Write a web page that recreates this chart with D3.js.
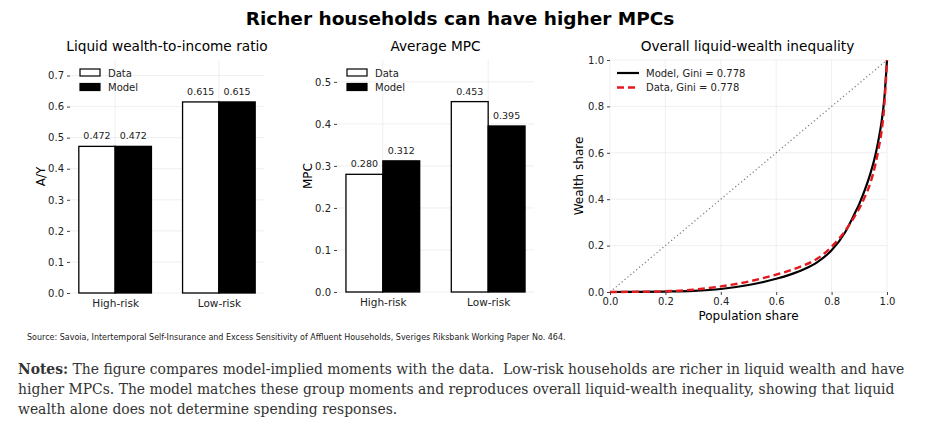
<!doctype html>
<html lang="en">
<head>
  <meta charset="utf-8">
  <title>Richer households can have higher MPCs</title>
  <style>
    * { margin: 0; padding: 0; box-sizing: border-box; }
    body { background: #fff; }
    svg { display: block; font-family: 'DejaVu Sans', sans-serif; }
    .notes { font-family: 'DejaVu Serif', serif; font-stretch: condensed; white-space: pre; }
  </style>
</head>
<body>
  <div id="container"></div>
  <script src="https://cdn.jsdelivr.net/npm/d3@7"></script>
  <script>
    // values
    const groups = ['High-risk', 'Low-risk'];
    const seriesNames = ['Data', 'Model'];

    const wealthIncomeData = [0.472, 0.615];
    const wealthIncomeModel = [0.472, 0.615];
    const wealthIncomeTicks = [0, 0.1, 0.2, 0.3, 0.4, 0.5, 0.6, 0.7];

    const mpcData = [0.280, 0.453];
    const mpcModel = [0.312, 0.395];
    const mpcTicks = [0, 0.1, 0.2, 0.3, 0.4, 0.5];

    const lorenzPop   = [0, 0.1,    0.2,   0.3,   0.4,   0.5,   0.6,   0.65,  0.7,   0.75,  0.8,   0.85,  0.88,  0.9,  0.92, 0.94, 0.96, 0.97, 0.98, 0.99, 1.0];
    const lorenzModel = [0, 0.0005, 0.002, 0.005, 0.013, 0.03,  0.057, 0.075, 0.098, 0.13,  0.18,  0.26,  0.33,  0.38, 0.44, 0.51, 0.60, 0.66, 0.73, 0.83, 1.0];
    const lorenzData  = [0, 0.0008, 0.003, 0.01,  0.024, 0.045, 0.075, 0.093, 0.115, 0.145, 0.195, 0.265, 0.32,  0.36, 0.41, 0.47, 0.56, 0.62, 0.69, 0.80, 1.0];
    const lorenzTicks = [0, 0.2, 0.4, 0.6, 0.8, 1.0];
    const giniModel = 0.778;
    const giniData = 0.778;

    const W = 927, H = 435;
    const gridColor = '#ebebeb';
    const red = '#e3191d';

    const svg = d3.select('#container').append('svg')
      .attr('width', W)
      .attr('height', H);
    svg.append('rect').attr('width', W).attr('height', H).attr('fill', '#fff');

    svg.append('text')
      .attr('x', 460).attr('y', 25)
      .attr('text-anchor', 'middle')
      .attr('font-size', 18.5)
      .attr('font-weight', 'bold')
      .text('Richer households can have higher MPCs');

    function styleAxis(g) {
      g.select('.domain').remove();
      g.selectAll('.tick line').attr('stroke', '#444');
      g.selectAll('.tick text').attr('fill', '#222');
    }

    function barPanel(opt) {
      const g = svg.append('g');
      const x = d3.scaleLinear().domain([-0.435, 1.435]).range([opt.left, opt.right]);
      const y = d3.scaleLinear().domain([0, opt.yMax]).range([opt.bottom, opt.top]);
      const bw = 0.35;

      // grid
      g.selectAll('line.hgrid').data(opt.ticks).enter().append('line')
        .attr('x1', opt.left).attr('x2', opt.right)
        .attr('y1', d => y(d)).attr('y2', d => y(d))
        .attr('stroke', gridColor).attr('stroke-width', 0.8);
      g.selectAll('line.vgrid').data(groups).enter().append('line')
        .attr('x1', (d, i) => x(i)).attr('x2', (d, i) => x(i))
        .attr('y1', opt.top).attr('y2', opt.bottom)
        .attr('stroke', gridColor).attr('stroke-width', 0.8);

      const series = [
        { name: seriesNames[0], vals: opt.dataVals, fill: '#fff', off: -bw },
        { name: seriesNames[1], vals: opt.modelVals, fill: '#000', off: 0 }
      ];

      series.forEach(s => {
        g.selectAll(null).data(s.vals).enter().append('rect')
          .attr('x', (d, i) => x(i + s.off))
          .attr('width', x(bw) - x(0))
          .attr('y', d => y(d))
          .attr('height', d => y(0) - y(d))
          .attr('fill', s.fill)
          .attr('stroke', '#000')
          .attr('stroke-width', 1.3);
        g.selectAll(null).data(s.vals).enter().append('text')
          .attr('x', (d, i) => x(i + s.off + bw / 2))
          .attr('y', d => y(d) - 7)
          .attr('text-anchor', 'middle')
          .attr('font-size', 9.5)
          .attr('fill', '#222')
          .text(d => d3.format('.3f')(d));
      });

      const ay = g.append('g')
        .attr('transform', `translate(${opt.left},0)`)
        .call(d3.axisLeft(y).tickValues(opt.ticks).tickFormat(d3.format('.1f')).tickSize(3).tickPadding(3))
        .attr('font-size', 10).attr('font-family', null);
      styleAxis(ay);

      const ax = g.append('g')
        .attr('transform', `translate(0,${opt.bottom})`)
        .call(d3.axisBottom(x).tickValues([0, 1]).tickFormat(i => groups[i]).tickSize(0).tickPadding(7))
        .attr('font-size', 10.5).attr('font-family', null);
      styleAxis(ax);

      g.append('text')
        .attr('transform', `translate(${opt.ylabelX},${(opt.top + opt.bottom) / 2}) rotate(-90)`)
        .attr('text-anchor', 'middle')
        .attr('font-size', 12)
        .text(opt.ylabel);

      g.append('text')
        .attr('x', (opt.left + opt.right) / 2).attr('y', 51)
        .attr('text-anchor', 'middle')
        .attr('font-size', 13.7)
        .text(opt.title);

      // legend
      const lg = g.append('g').attr('transform', `translate(${opt.left + 10},${opt.top + 9})`);
      series.forEach((s, i) => {
        lg.append('rect')
          .attr('x', 0).attr('y', i * 14.5)
          .attr('width', 20).attr('height', 7)
          .attr('fill', s.fill).attr('stroke', '#000').attr('stroke-width', 1.2);
        lg.append('text')
          .attr('x', 28).attr('y', i * 14.5 + 7.5)
          .attr('font-size', 10)
          .attr('fill', '#222')
          .text(s.name);
      });
    }

    barPanel({
      left: 70, right: 264, top: 60, bottom: 293, yMax: 0.75,
      ticks: wealthIncomeTicks, dataVals: wealthIncomeData, modelVals: wealthIncomeModel,
      title: 'Liquid wealth-to-income ratio', ylabel: 'A/Y', ylabelX: 45
    });

    barPanel({
      left: 337, right: 534, top: 60, bottom: 292, yMax: 0.552,
      ticks: mpcTicks, dataVals: mpcData, modelVals: mpcModel,
      title: 'Average MPC', ylabel: 'MPC', ylabelX: 312
    });

    // Lorenz panel
    (function () {
      const left = 610, right = 887, top = 60, bottom = 292;
      const g = svg.append('g');
      const x = d3.scaleLinear().domain([0, 1]).range([left, right]);
      const y = d3.scaleLinear().domain([0, 1]).range([bottom, top]);

      g.selectAll(null).data(lorenzTicks).enter().append('line')
        .attr('x1', left).attr('x2', right)
        .attr('y1', d => y(d)).attr('y2', d => y(d))
        .attr('stroke', gridColor).attr('stroke-width', 0.8);
      g.selectAll(null).data(lorenzTicks).enter().append('line')
        .attr('x1', d => x(d)).attr('x2', d => x(d))
        .attr('y1', top).attr('y2', bottom)
        .attr('stroke', gridColor).attr('stroke-width', 0.8);

      g.append('line')
        .attr('x1', x(0)).attr('y1', y(0)).attr('x2', x(1)).attr('y2', y(1))
        .attr('stroke', '#777').attr('stroke-width', 1.2)
        .attr('stroke-dasharray', '1.2,2.6');

      const line = d3.line().curve(d3.curveMonotoneX)
        .x(d => x(d[0])).y(d => y(d[1]));

      g.append('path')
        .datum(d3.zip(lorenzPop, lorenzModel))
        .attr('d', line)
        .attr('fill', 'none').attr('stroke', '#000').attr('stroke-width', 2.2);
      g.append('path')
        .datum(d3.zip(lorenzPop, lorenzData))
        .attr('d', line)
        .attr('fill', 'none').attr('stroke', red).attr('stroke-width', 2.4)
        .attr('stroke-dasharray', '7,4');

      const ay = g.append('g')
        .attr('transform', `translate(${left},0)`)
        .call(d3.axisLeft(y).tickValues(lorenzTicks).tickFormat(d3.format('.1f')).tickSize(3).tickPadding(3))
        .attr('font-size', 10).attr('font-family', null);
      styleAxis(ay);
      const ax = g.append('g')
        .attr('transform', `translate(0,${bottom})`)
        .call(d3.axisBottom(x).tickValues(lorenzTicks).tickFormat(d3.format('.1f')).tickSize(3).tickPadding(3))
        .attr('font-size', 10).attr('font-family', null);
      styleAxis(ax);

      g.append('text')
        .attr('x', (left + right) / 2).attr('y', 320)
        .attr('text-anchor', 'middle').attr('font-size', 12)
        .text('Population share');
      g.append('text')
        .attr('transform', `translate(583,${(top + bottom) / 2}) rotate(-90)`)
        .attr('text-anchor', 'middle').attr('font-size', 12)
        .text('Wealth share');
      g.append('text')
        .attr('x', (left + right) / 2 - 1).attr('y', 51)
        .attr('text-anchor', 'middle').attr('font-size', 13.7)
        .text('Overall liquid-wealth inequality');

      const legend = [
        { label: `Model, Gini = ${d3.format('.3f')(giniModel)}`, color: '#000', dash: null, w: 2.2 },
        { label: `Data, Gini = ${d3.format('.3f')(giniData)}`, color: red, dash: '7,4', w: 2.4 }
      ];
      const lg = g.append('g').attr('transform', `translate(617,73)`);
      legend.forEach((d, i) => {
        lg.append('line')
          .attr('x1', 0).attr('x2', 22).attr('y1', i * 14.5).attr('y2', i * 14.5)
          .attr('stroke', d.color).attr('stroke-width', d.w)
          .attr('stroke-dasharray', d.dash);
        lg.append('text')
          .attr('x', 29).attr('y', i * 14.5 + 3.5)
          .attr('font-size', 10).attr('fill', '#222')
          .text(d.label);
      });
    })();

    svg.append('text')
      .attr('x', 27).attr('y', 340)
      .attr('font-size', 8)
      .attr('fill', '#222')
      .text('Source: Savoia, Intertemporal Self-Insurance and Excess Sensitivity of Affluent Households, Sveriges Riksbank Working Paper No. 464.');

    const noteLines = [
      ['Notes:', ' The figure compares model-implied moments with the data.  Low-risk households are richer in liquid wealth and have'],
      ['', 'higher MPCs. The model matches these group moments and reproduces overall liquid-wealth inequality, showing that liquid'],
      ['', 'wealth alone does not determine spending responses.']
    ];
    const noteEls = noteLines.map((ln, i) => {
      const t = svg.append('text').attr('class', 'notes')
        .attr('x', 18).attr('y', 374 + i * 20)
        .attr('fill', '#333');
      if (ln[0]) t.append('tspan').attr('font-weight', 'bold').text(ln[0]);
      t.append('tspan').text(ln[1]);
      return t;
    });
    // size the notes so the first line spans the same width as in the figure
    noteEls.forEach(t => t.attr('font-size', 16));
    const w0 = noteEls[0].node().getComputedTextLength();
    const fs = 16 * 887 / w0;
    noteEls.forEach(t => t.attr('font-size', fs));
  </script>
</body>
</html>
